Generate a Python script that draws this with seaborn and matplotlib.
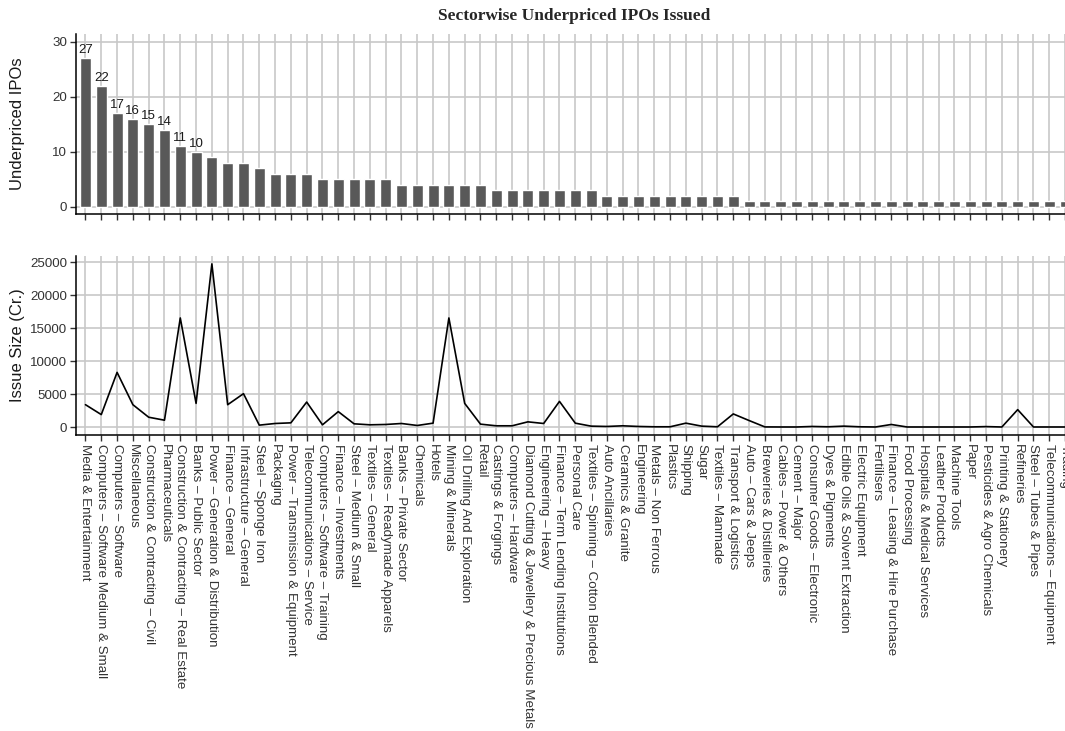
import numpy as np
import pandas as pd
import seaborn as sns
import matplotlib.pyplot as plt

# ==========================================
# Data
# ==========================================

sectors = [
    "Media & Entertainment",
    "Computers \u2013 Software Medium & Small",
    "Computers \u2013 Software",
    "Miscellaneous",
    "Construction & Contracting \u2013 Civil",
    "Pharmaceuticals",
    "Construction & Contracting \u2013 Real Estate",
    "Banks \u2013 Public Sector",
    "Power \u2013 Generation & Distribution",
    "Finance \u2013 General",
    "Infrastructure \u2013 General",
    "Steel \u2013 Sponge Iron",
    "Packaging",
    "Power \u2013 Transmission & Equipment",
    "Telecommunications \u2013 Service",
    "Computers \u2013 Software \u2013 Training",
    "Finance \u2013 Investments",
    "Steel \u2013 Medium & Small",
    "Textiles \u2013 General",
    "Textiles \u2013 Readymade Apparels",
    "Banks \u2013 Private Sector",
    "Chemicals",
    "Hotels",
    "Mining & Minerals",
    "Oil Drilling And Exploration",
    "Retail",
    "Castings & Forgings",
    "Computers \u2013 Hardware",
    "Diamond Cutting & Jewellery & Precious Metals",
    "Engineering \u2013 Heavy",
    "Finance \u2013 Term Lending Institutions",
    "Personal Care",
    "Textiles \u2013 Spinning \u2013 Cotton Blended",
    "Auto Ancillaries",
    "Ceramics & Granite",
    "Engineering",
    "Metals \u2013 Non Ferrous",
    "Plastics",
    "Shipping",
    "Sugar",
    "Textiles \u2013 Manmade",
    "Transport & Logistics",
    "Auto \u2013 Cars & Jeeps",
    "Breweries & Distilleries",
    "Cables \u2013 Power & Others",
    "Cement \u2013 Major",
    "Consumer Goods \u2013 Electronic",
    "Dyes & Pigments",
    "Edible Oils & Solvent Extraction",
    "Electric Equipment",
    "Fertilisers",
    "Finance \u2013 Leasing & Hire Purchase",
    "Food Processing",
    "Hospitals & Medical Services",
    "Leather Products",
    "Machine Tools",
    "Paper",
    "Pesticides & Agro Chemicals",
    "Printing & Stationery",
    "Refineries",
    "Steel \u2013 Tubes & Pipes",
    "Telecommunications \u2013 Equipment",
    "Trading",
]

underpriced = [27, 22, 17, 16, 15, 14, 11, 10, 9, 8, 8, 7, 6, 6, 6,
               5, 5, 5, 5, 5, 4, 4, 4, 4, 4, 4, 3, 3, 3, 3, 3, 3, 3,
               2, 2, 2, 2, 2, 2, 2, 2, 2,
               1, 1, 1, 1, 1, 1, 1, 1, 1, 1, 1, 1, 1, 1, 1, 1, 1, 1, 1, 1, 1]

issue_size = [3400, 1900, 8300, 3400, 1500, 1050, 16550, 3600, 24750, 3400,
              5070, 300, 550, 650, 3800, 350, 2350, 500, 350, 400,
              550, 250, 600, 16550, 3600, 450, 200, 200, 800, 550,
              3900, 600, 150, 100, 200, 100, 50, 50, 600, 150,
              50, 2000, 1000, 30, 20, 20, 100, 50, 150, 50,
              20, 400, 20, 20, 20, 20, 20, 80, 20, 2650,
              20, 20, 20]

df = pd.DataFrame({"Sector": sectors,
                   "Underpriced": underpriced,
                   "IssueSize": issue_size})

# ==========================================
# Style
# ==========================================

sns.set_style("white")
plt.rcParams['font.family'] = ['Liberation Sans', 'DejaVu Sans']

grid_col = '#c8c8c8'
tick_col = '#333333'

W, H = 1065, 731
fig = plt.figure(figsize=(W / 100, H / 100), dpi=100)

left = 76 / W
width = (63.2 * 15.8) / W
ax1 = fig.add_axes([left, 1 - 214 / H, width, 180 / H])
ax2 = fig.add_axes([left, 1 - 435.3 / H, width, 179.6 / H])

# ==========================================
# Top panel : bar chart
# ==========================================

sns.barplot(data=df, x="Sector", y="Underpriced", color='#595959',
            width=0.7, saturation=1, ax=ax1)

for i, v in enumerate(underpriced):
    if v >= 10:
        ax1.annotate(str(v), (i, v), xytext=(0, 1.5), textcoords='offset points',
                     ha='center', va='bottom', fontsize=9.5, color='#1a1a1a')

ax1.set_ylim(-1.35, 31.45)
ax1.set_yticks([0, 10, 20, 30])
ax1.set_ylabel("Underpriced IPOs", fontsize=12, color='#1a1a1a')
ax1.set_xlabel("")
ax1.tick_params(axis='x', labelbottom=False)

# ==========================================
# Bottom panel : line chart
# ==========================================

sns.lineplot(data=df, x="Sector", y="IssueSize", sort=False,
             color='black', linewidth=1.2, ax=ax2)

ax2.set_ylim(-1240, 25990)
ax2.set_yticks([0, 5000, 10000, 15000, 20000, 25000])
ax2.set_ylabel("Issue Size (Cr.)", fontsize=12, color='#1a1a1a')
ax2.set_xlabel("")
ax2.set_xticks(range(len(sectors)))
ax2.set_xticklabels(sectors, rotation=-90, ha='center', va='top')

# ==========================================
# Shared axis styling
# ==========================================

for ax in (ax1, ax2):
    ax.set_xlim(-0.6, 62.6)
    ax.set_axisbelow(True)
    ax.grid(True, color=grid_col, linewidth=1.2)
    for s in ('top', 'right'):
        ax.spines[s].set_visible(False)
    for s in ('left', 'bottom'):
        ax.spines[s].set_color('black')
        ax.spines[s].set_linewidth(1.1)
    ax.tick_params(axis='both', direction='out', length=4.5, width=1,
                   color='#333333', labelsize=9.6, labelcolor=tick_col, pad=2,
                   bottom=True, left=True)
    # y-label spans roughly 12-25 px from the left edge
    ax.yaxis.set_label_coords((25 - 76) / (63.2 * 15.8), 0.5)

fig.text(574 / W, 1 - 16 / H, "Sectorwise Underpriced IPOs Issued",
         ha='center', va='center', fontsize=12.5, fontweight='bold',
         family=['Liberation Serif', 'DejaVu Serif'])

fig.savefig("out.png", dpi=100)
